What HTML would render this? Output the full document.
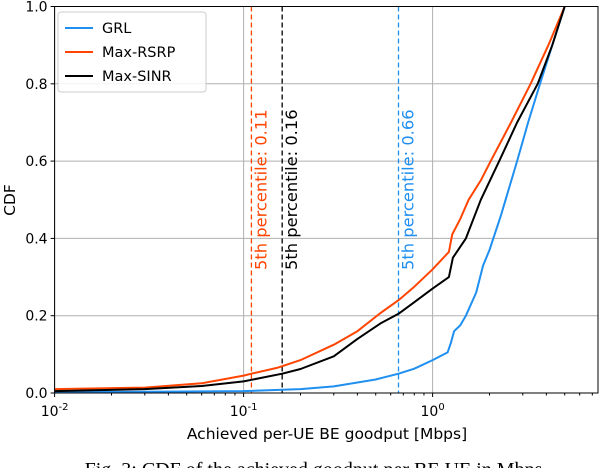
<!DOCTYPE html>
<html><head><meta charset="utf-8"><style>
body{margin:0;background:#fff;width:602px;height:468px;overflow:hidden}
text{font-family:"DejaVu Sans","Liberation Sans",sans-serif}
</style></head><body>
<svg id="chart" width="602" height="468" xmlns="http://www.w3.org/2000/svg">
<g id="grid"></g><g id="marks"></g><g id="axes"></g>
<text x="316" y="476" text-anchor="middle" style="font-family:'Liberation Serif',serif;font-size:20px">Fig. 3: CDF of the achieved goodput per BE UE in Mbps.</text>
</svg>
<script>
const seriesNames=["GRL","Max-RSRP","Max-SINR"];
const seriesColors=["#1f8ff0","#ff4500","#000000"];
const grlX=[0.01,0.03,0.1,0.2,0.3,0.5,0.66,0.8,1.0,1.2,1.25,1.3,1.4,1.5,1.7,1.85,2.0,2.3,2.8,3.2,3.7,4.3,5.0];
const grlY=[0.002,0.003,0.005,0.01,0.017,0.035,0.05,0.063,0.085,0.105,0.13,0.16,0.175,0.2,0.26,0.33,0.37,0.46,0.6,0.7,0.8,0.9,1.0];
const rsrpX=[0.01,0.03,0.06,0.1,0.11,0.15,0.2,0.3,0.4,0.53,0.66,0.8,1.0,1.22,1.27,1.4,1.55,1.8,2.03,2.6,3.3,4.1,5.0];
const rsrpY=[0.01,0.014,0.025,0.045,0.05,0.065,0.085,0.125,0.16,0.207,0.24,0.275,0.32,0.365,0.41,0.45,0.5,0.55,0.6,0.7,0.8,0.9,1.0];
const sinrX=[0.01,0.03,0.06,0.1,0.16,0.2,0.3,0.4,0.53,0.66,0.8,1.0,1.22,1.28,1.5,1.8,2.25,2.8,3.6,4.3,5.0];
const sinrY=[0.005,0.01,0.018,0.03,0.05,0.062,0.095,0.14,0.18,0.205,0.235,0.27,0.3,0.35,0.4,0.5,0.6,0.7,0.8,0.9,1.0];
const pctValues=[0.66,0.11,0.16];
const pctLabels=["5th percentile: 0.66","5th percentile: 0.11","5th percentile: 0.16"];
const yTicks=[0,0.2,0.4,0.6,0.8,1.0];
const yTickLabels=["0.0","0.2","0.4","0.6","0.8","1.0"];
const xDecades=[-2,-1,0];
const NS="http://www.w3.org/2000/svg";
const L=54.6,R=598,T=6.5,B=393,DEC=189;
const xs=v=>L+DEC*(Math.log10(v)+2);
const ys=v=>B-(B-T)*v;
function mk(tag,attrs,parent,txt){const e=document.createElementNS(NS,tag);for(const k in attrs)e.setAttribute(k,attrs[k]);if(txt!==undefined)e.textContent=txt;parent.appendChild(e);return e;}
const grid=document.getElementById('grid'),marks=document.getElementById('marks'),axes=document.getElementById('axes');
yTicks.forEach((t,i)=>{
 const g=mk('line',{x1:L,x2:R,y1:ys(t),y2:ys(t),stroke:'#b0b0b0','stroke-width':1},grid);
 
 
 const tk=mk('line',{x1:L-4,x2:L,y1:ys(t),y2:ys(t),stroke:'#000'},axes);
 
 
 const lb=mk('text',{x:L-7,y:ys(t)+5,'text-anchor':'end','font-size':14},axes,yTickLabels[i]);
 
 
});
xDecades.forEach(d=>{
 const x=xs(Math.pow(10,d));
 const g=mk('line',{x1:x,x2:x,y1:T,y2:B,stroke:'#b0b0b0','stroke-width':1},grid);
 
 
 const tk=mk('line',{x1:x,x2:x,y1:B,y2:B+4,stroke:'#000'},axes);
 
 
 const lb=mk('text',{x:x,y:B+23,'text-anchor':'middle','font-size':14},axes);
 
 
 lb.appendChild(document.createTextNode('10'));
 mk('tspan',{dy:-6,'font-size':10},lb,String(d));
 for(let m=2;m<=9;m++){const v=m*Math.pow(10,d);const mx=xs(v);if(mx>R)break;
  const mt=mk('line',{x1:mx,x2:mx,y1:B,y2:B+2.5,stroke:'#000'},axes);
  
  }
});
pctValues.forEach((v,i)=>{
 const x=xs(v);
 const ln=mk('line',{x1:x,x2:x,y1:T,y2:B,stroke:seriesColors[i],'stroke-width':1.3,'stroke-dasharray':'5,3'},marks);
 
 
 const tx=mk('text',{x:0,y:0,transform:`translate(${x+15},270) rotate(-90)`,'font-size':16.3,fill:seriesColors[i]},marks,pctLabels[i]);
 
 
});
[[grlX,grlY],[rsrpX,rsrpY],[sinrX,sinrY]].forEach((s,i)=>{
 let d='';s[0].forEach((v,j)=>{d+=(j?'L':'M')+xs(v).toFixed(1)+','+ys(s[1][j]).toFixed(1);});
 const p=mk('path',{d:d,fill:'none',stroke:seriesColors[i],'stroke-width':2,'stroke-linejoin':'round'},marks);
 
 
});
const fr=mk('rect',{x:L,y:T,width:R-L,height:B-T,fill:'none',stroke:'#000','stroke-width':1},axes);


const xl=mk('text',{x:327,y:439,'text-anchor':'middle','font-size':15.5},axes,'Achieved per-UE BE goodput [Mbps]');


const yl=mk('text',{x:0,y:0,transform:'translate(15,200) rotate(-90)','text-anchor':'middle','font-size':15.5},axes,'CDF');


const lg=mk('g',{},axes);


mk('rect',{x:58,y:12,width:148,height:80,rx:3,fill:'#fff','fill-opacity':0.85,stroke:'#ccc'},lg);
seriesNames.forEach((n,i)=>{
 const y=28+i*24;
 const le=mk('line',{x1:65,x2:93,y1:y,y2:y,stroke:seriesColors[i],'stroke-width':2},lg);
 
 
 const lt=mk('text',{x:102,y:y+5,'font-size':14.5},lg,n);
 
 
});
</script>
</body></html>
